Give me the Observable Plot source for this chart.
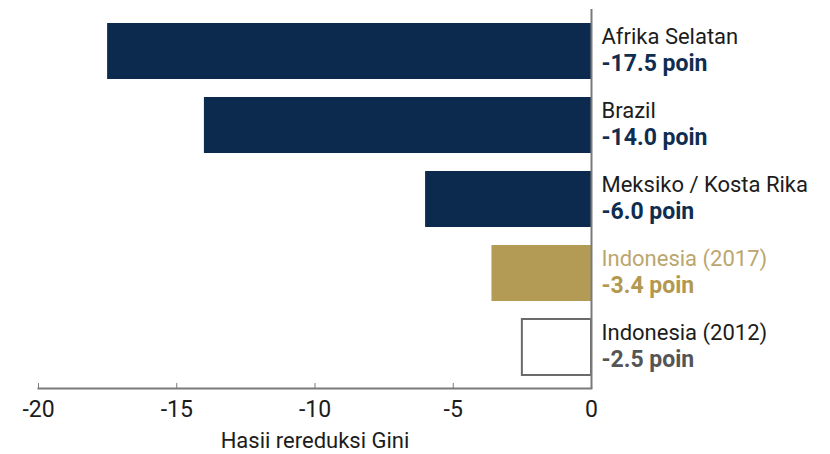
<!DOCTYPE html>
<html>
<head>
<meta charset="utf-8">
<script src="https://cdn.jsdelivr.net/npm/d3@7"></script>
<script src="https://cdn.jsdelivr.net/npm/@observablehq/plot@0.6"></script>
<style>
  html, body { margin: 0; padding: 0; background: #fff; }
  #chart svg { display: block; }
</style>
</head>
<body>
<div id="chart"></div>
<script>
// Data
const categories = ["Afrika Selatan", "Brazil", "Meksiko / Kosta Rika", "Indonesia (2017)", "Indonesia (2012)"];
const values = [-17.5, -14.0, -6.0, -3.6, -2.5];           // bar lengths as drawn
const valueLabels = ["-17.5 poin", "-14.0 poin", "-6.0 poin", "-3.4 poin", "-2.5 poin"];
const xTicks = [-20, -15, -10, -5, 0];
const xLabel = "Hasii rereduksi Gini";

const barFill = ["#0c2a4d", "#0c2a4d", "#0c2a4d", "#b39a55", "#ffffff"];
const barStroke = ["none", "none", "none", "none", "#6b6b6b"];
const nameColor = ["#1c1c1c", "#1c1c1c", "#1c1c1c", "#bba66e", "#1c1c1c"];
const valueColor = ["#0f2d50", "#0f2d50", "#0f2d50", "#b3984f", "#555555"];

const data = categories.map((c, i) => ({
  name: c, value: values[i], label: valueLabels[i],
  fill: barFill[i], stroke: barStroke[i], nameColor: nameColor[i], valueColor: valueColor[i]
}));

const font = "Roboto, 'Noto Sans', sans-serif";

const chart = Plot.plot({
  width: 830,
  height: 454,
  marginTop: 9,
  marginBottom: 66,
  marginLeft: 38,
  marginRight: 239,
  style: { fontFamily: font, background: "#fff" },
  x: { domain: [-20, 0] },
  y: { domain: categories, paddingInner: 0.22, paddingOuter: 0.156, axis: null },
  marks: [
    Plot.barX(data, {
      x: "value", y: "name",
      fill: d => d.fill,
      stroke: d => d.stroke,
      strokeWidth: 2,
      insetTop: 1, insetBottom: 1
    }),
    Plot.ruleX([0], { stroke: "#7a7a7a", strokeWidth: 2 }),
    Plot.frame({ anchor: "bottom", stroke: "#7a7a7a", strokeWidth: 2 }),
    Plot.axisX({
      ticks: xTicks,
      tickSize: -5,
      tickPadding: 17,
      tickFormat: d => String(d),
      fontSize: 23,
      fill: "#1c1c1c",
      stroke: "#7a7a7a",
      label: null
    }),
    Plot.text([xLabel], {
      frameAnchor: "bottom",
      dy: 52,
      lineAnchor: "middle",
      fontSize: 22,
      fill: "#1c1c1c"
    }),
    Plot.text(data, {
      x: 0, y: "name", text: "name",
      dx: 10, dy: -14.5,
      textAnchor: "start", lineAnchor: "middle",
      fontSize: 22,
      fill: d => d.nameColor
    }),
    Plot.text(data, {
      x: 0, y: "name", text: "label",
      dx: 10, dy: 12,
      textAnchor: "start", lineAnchor: "middle",
      fontSize: 23, fontWeight: "bold",
      fill: d => d.valueColor
    })
  ]
});

document.getElementById("chart").appendChild(chart);
</script>
</body>
</html>
